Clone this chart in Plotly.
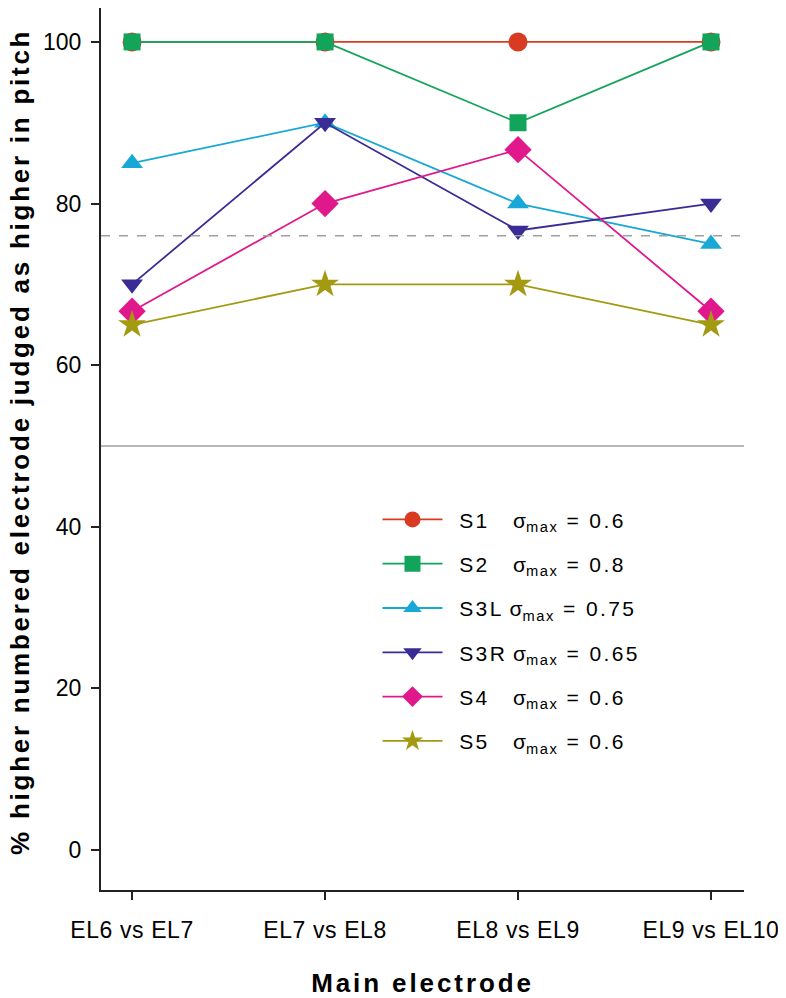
import plotly.graph_objects as go

# Comparaciones de electrodos (eje x)
pairs = ["EL6 vs EL7", "EL7 vs EL8", "EL8 vs EL9", "EL9 vs EL10"]

# Porcentaje por sujeto
s1 = [100, 100, 100, 100]
s2 = [100, 100, 90, 100]
s3l = [85, 90, 80, 75]
s3r = [70, 90, 76.67, 80]
s4 = [66.67, 80, 86.67, 66.67]
s5 = [65, 70, 70, 65]

labels = ["S1", "S2", "S3L", "S3R", "S4", "S5"]
sigmas = ["0.6", "0.8", "0.75", "0.65", "0.6", "0.6"]
series = [s1, s2, s3l, s3r, s4, s5]
colors = ["#d83a22", "#12a45a", "#18a8d8", "#3a2c94", "#e0188c", "#a49a12"]
symbols = ["circle", "square", "triangle-up", "triangle-down", "diamond", "star"]
sizes = [19, 17, 19, 19, 21, 21]

xpos = list(range(len(pairs)))
NB = "\u00a0"


def spaced(t, ls):
    return '<span style="letter-spacing:%spx">%s</span>' % (ls, t)


fig = go.Figure()

# Líneas de referencia
fig.add_hline(y=50, line=dict(color="#a0a0a0", width=1.5))
fig.add_hline(y=76, line=dict(color="#a0a0a0", width=1.5, dash="dash"))

for lab, sg, vals, c, sym, sz in zip(labels, sigmas, series, colors, symbols, sizes):
    pad = NB * 4 if len(lab) < 3 else NB
    name = (NB * 2 + spaced(lab, 2.4) + pad + "σ<sub>" + spaced("max", 1.5) + "</sub>"
            + spaced(" = " + sg, 2.4))
    fig.add_trace(go.Scatter(
        x=xpos, y=vals, name=name, legendgroup=lab,
        mode="lines+markers",
        line=dict(color=c, width=1.8),
        marker=dict(symbol=sym, size=sz, color=c, line=dict(width=0)),
    ))

# Título del eje y como anotación (para poder centrarlo igual que el original)
fig.add_annotation(
    text="<b>" + spaced("% higher numbered electrode judged as higher in pitch", 2.75) + "</b>",
    xref="paper", yref="paper", x=-0.126, y=0.508,
    xanchor="center", yanchor="middle", textangle=-90,
    showarrow=False, font=dict(size=26),
)

fig.update_layout(
    width=786, height=990,
    margin=dict(l=93, r=50, t=0, b=108),
    plot_bgcolor="white", paper_bgcolor="white",
    font=dict(family="Liberation Sans, Arial, sans-serif", color="black", size=23),
    showlegend=True,
    legend=dict(x=0.43, y=0.443, xanchor="left", yanchor="top",
                font=dict(size=21), tracegroupgap=14, itemwidth=60,
                bgcolor="rgba(0,0,0,0)"),
    xaxis=dict(
        tickmode="array", tickvals=xpos, ticktext=[spaced(p, 0.6) for p in pairs],
        range=[-0.161, 3.171], showgrid=False, zeroline=False,
        showline=True, linecolor="#222", linewidth=2,
        ticks="outside", ticklen=8, tickwidth=2, tickcolor="#222",
        ticklabelstandoff=10,
        title=dict(text="<b>" + spaced("Main electrode", 2.9) + "</b>",
                   font=dict(size=26), standoff=38),
    ),
    yaxis=dict(
        range=[-4.95, 104.2], tickvals=[0, 20, 40, 60, 80, 100],
        showgrid=False, zeroline=False,
        showline=True, linecolor="#222", linewidth=2,
        ticks="outside", ticklen=8, tickwidth=2, tickcolor="#222",
        ticklabelstandoff=5,
    ),
)

fig.write_html("out.html")
